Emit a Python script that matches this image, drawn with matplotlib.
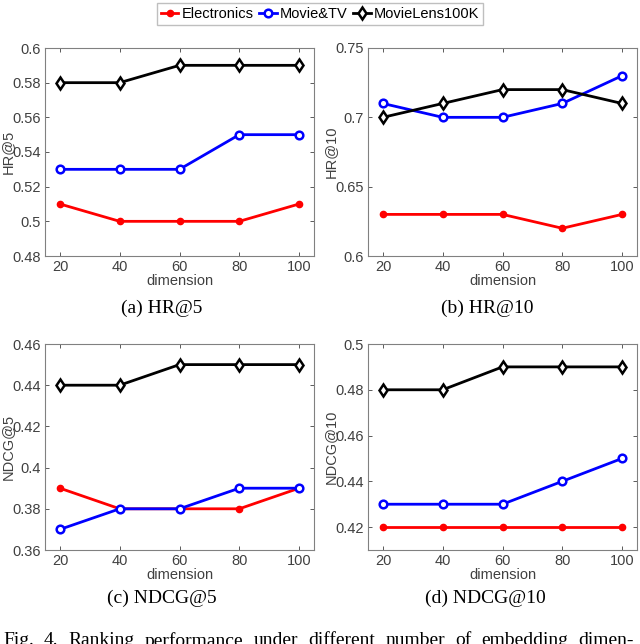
import matplotlib.pyplot as plt
from matplotlib.lines import Line2D

dims = [20, 40, 60, 80, 100]
series = ['Electronics', 'Movie&TV', 'MovieLens100K']

hr5 = {'Electronics': [0.51, 0.50, 0.50, 0.50, 0.51],
       'Movie&TV': [0.53, 0.53, 0.53, 0.55, 0.55],
       'MovieLens100K': [0.58, 0.58, 0.59, 0.59, 0.59]}
hr10 = {'Electronics': [0.63, 0.63, 0.63, 0.62, 0.63],
        'Movie&TV': [0.71, 0.70, 0.70, 0.71, 0.73],
        'MovieLens100K': [0.70, 0.71, 0.72, 0.72, 0.71]}
ndcg5 = {'Electronics': [0.39, 0.38, 0.38, 0.38, 0.39],
         'Movie&TV': [0.37, 0.38, 0.38, 0.39, 0.39],
         'MovieLens100K': [0.44, 0.44, 0.45, 0.45, 0.45]}
ndcg10 = {'Electronics': [0.42, 0.42, 0.42, 0.42, 0.42],
          'Movie&TV': [0.43, 0.43, 0.43, 0.44, 0.45],
          'MovieLens100K': [0.48, 0.48, 0.49, 0.49, 0.49]}

panels = [
    (hr5, 'HR@5', (0.48, 0.6), [0.48, 0.5, 0.52, 0.54, 0.56, 0.58, 0.6], '(a) HR@5'),
    (hr10, 'HR@10', (0.6, 0.75), [0.6, 0.65, 0.7, 0.75], '(b) HR@10'),
    (ndcg5, 'NDCG@5', (0.36, 0.46), [0.36, 0.38, 0.4, 0.42, 0.44, 0.46], '(c) NDCG@5'),
    (ndcg10, 'NDCG@10', (0.41, 0.5), [0.42, 0.44, 0.46, 0.48, 0.5], '(d) NDCG@10'),
]
caption = 'Fig. 4.  Ranking performance under different number of embedding dimen-'

styles = {
    'Electronics': dict(color='red', marker='o', markersize=4.5, mfc='red', mec='red'),
    'Movie&TV': dict(color='blue', marker='o', markersize=5.5, mfc='white', mec='blue', mew=1.8),
    'MovieLens100K': dict(color='black', marker='d', markersize=6.5, mfc='white', mec='black', mew=1.8),
}

W, H = 640, 644
fig = plt.figure(figsize=(W / 100, H / 100), dpi=100)
plt.rcParams['font.family'] = ['Liberation Sans', 'DejaVu Sans']

# axes boxes in pixels: left, top, right, bottom
boxes = [(45, 48, 314, 256), (368, 48, 637, 256), (45, 344, 314, 550), (368, 344, 637, 550)]
cap_x = [162, 487, 162, 485]
cap_y = [308, 308, 598, 598]

for (data, ylab, ylim, yt, cap), (l, t, r, b), cx, cy in zip(panels, boxes, cap_x, cap_y):
    ax = fig.add_axes([l / W, 1 - b / H, (r - l) / W, (b - t) / H])
    for s in series:
        ax.plot(dims, data[s], lw=2, **styles[s])
    ax.set_xlim(15, 105)
    ax.set_ylim(*ylim)
    ax.set_xticks(dims)
    ax.set_yticks(yt)
    ax.set_yticklabels(['%g' % v for v in yt])
    ax.tick_params(direction='in', top=True, right=True, labelsize=10.5,
                   colors='#404040', length=3, width=0.6, pad=3)
    for sp in ax.spines.values():
        sp.set_color('#808080')
        sp.set_linewidth(0.8)
    ax.set_xlabel('dimension', fontsize=10.5, color='#404040', labelpad=0)
    ax.set_ylabel(ylab, fontsize=10.5, color='#404040', va='center')
    ax.yaxis.set_label_coords(-37 / (r - l), 0.5)
    fig.text(cx / W, 1 - cy / H, cap, ha='center', va='center',
             family='Liberation Serif', fontsize=14)

handles = [Line2D([], [], lw=2, **styles[s]) for s in series]
fig.legend(handles, series, loc='center', bbox_to_anchor=(320 / W, 1 - 14 / H),
           ncol=3, fontsize=10.5, frameon=True, fancybox=False, edgecolor='#b0b0b0',
           handlelength=1.2, handletextpad=0.2, columnspacing=0.4,
           borderpad=0.25, borderaxespad=0)

# justified caption line, cut at the bottom edge like the page crop
words = caption.split()
rend = fig.canvas.get_renderer()
txts = [fig.text(0, 1 - 632 / H, w, ha='left', va='top', family='Liberation Serif',
                 fontsize=14) for w in words]
widths = [t.get_window_extent(rend).width for t in txts]
gap = (634 - 3 - sum(widths)) / (len(words) - 1)
x = 3
for t, w in zip(txts, widths):
    t.set_x(x / W)
    x += w + gap

fig.savefig('out.png', dpi=100)
